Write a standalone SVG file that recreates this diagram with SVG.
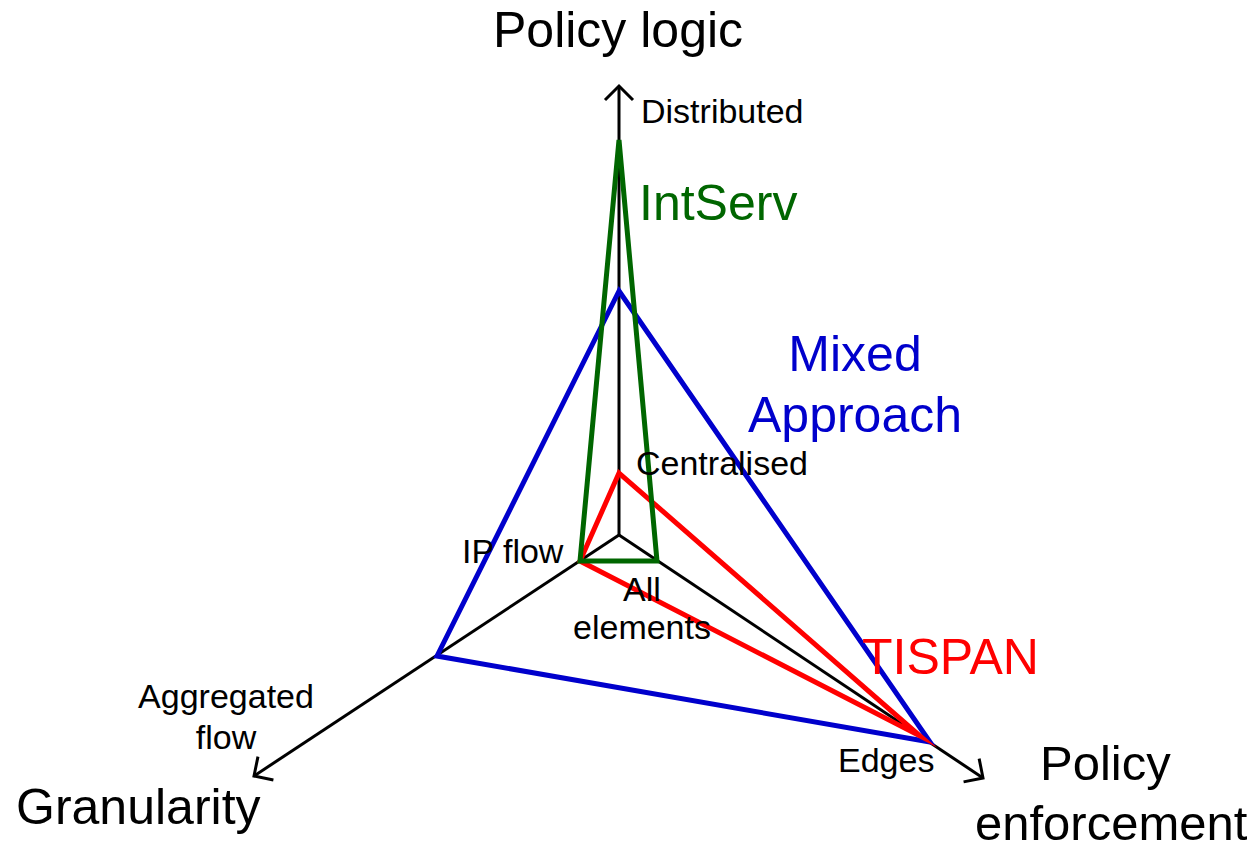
<svg xmlns="http://www.w3.org/2000/svg" width="1251" height="850" viewBox="0 0 1251 850">
  <style>
    text { font-family: "Liberation Sans", Arial, sans-serif; }
    .axis { fill: none; stroke: #000; stroke-width: 3; }
    .big { font-size: 50px; fill: #000; }
    .small { font-size: 34px; fill: #000; }
    .poly { fill: none; stroke-width: 5; stroke-linejoin: miter; stroke-miterlimit: 40; }
    .intserv { stroke: #006600; stroke-miterlimit: 4; }
    .mixed { stroke: #0000CC; }
    .tispan { stroke: #FF0000; }
  </style>
  <defs>
    <marker id="openArrow" markerUnits="userSpaceOnUse" markerWidth="40" markerHeight="40" refX="0" refY="0" orient="auto" overflow="visible">
      <path d="M-14,-14 L0,0 L-14,14" fill="none" stroke="#000" stroke-width="3"/>
    </marker>
  </defs>

  <rect width="1251" height="850" fill="#fff"/>

  <!-- three axes radiating from the common origin -->
  <g id="connectors">
    <line class="axis" x1="619" y1="535" x2="619" y2="86" marker-end="url(#openArrow)"/>
    <line class="axis" x1="619" y1="535" x2="254" y2="776" marker-end="url(#openArrow)"/>
    <line class="axis" x1="619" y1="535" x2="983" y2="778" marker-end="url(#openArrow)"/>
  </g>

  <!-- approach profiles -->
  <g id="mixed-approach">
    <polygon class="poly mixed" points="619,291 437,656 930,742"/>
  </g>
  <g id="tispan">
    <polygon class="poly tispan" points="619,473 580,561 920,736"/>
  </g>
  <g id="intserv">
    <polygon class="poly intserv" points="619,140 580,561 657,561"/>
  </g>

  <!-- axis titles -->
  <g id="axis-policy-logic">
    <text class="big" x="493" y="47">Policy logic</text>
    <text class="small" x="641" y="123">Distributed</text>
    <text class="small" x="636" y="475">Centralised</text>
  </g>
  <g id="axis-granularity">
    <text class="big" x="16" y="824">Granularity</text>
    <text class="small" x="226" y="708" text-anchor="middle">Aggregated</text>
    <text class="small" x="226" y="749" text-anchor="middle">flow</text>
    <text class="small" x="462" y="563">IP flow</text>
  </g>
  <g id="axis-policy-enforcement">
    <text class="big" x="1040" y="780" style="font-size:49px">Policy</text>
    <text class="big" x="975" y="840" style="font-size:49px">enforcement</text>
    <text class="small" x="838" y="772">Edges</text>
    <text class="small" x="642" y="601" text-anchor="middle">All</text>
    <text class="small" x="642" y="639" text-anchor="middle">elements</text>
  </g>

  <!-- profile labels -->
  <g id="labels">
    <text class="big" x="639" y="220" style="fill:#006600">IntServ</text>
    <text class="big" x="855" y="371" text-anchor="middle" style="fill:#0000CC">Mixed</text>
    <text class="big" x="855" y="432" text-anchor="middle" style="fill:#0000CC">Approach</text>
    <text class="big" x="862" y="674" style="fill:#FF0000">TISPAN</text>
  </g>
</svg>
